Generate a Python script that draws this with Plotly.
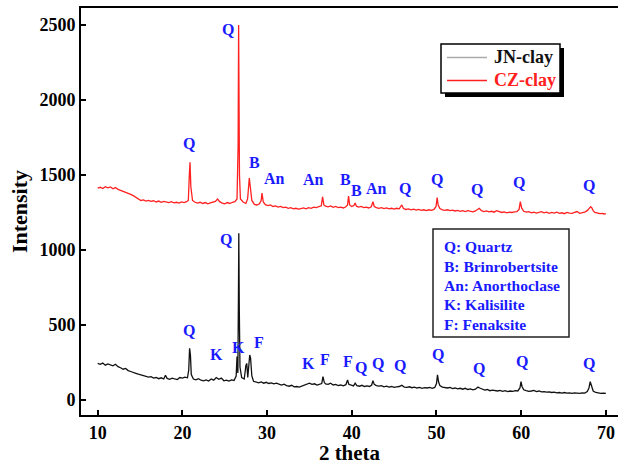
import plotly.graph_objects as go

# ---------------- data ----------------
jn_x = [10.0, 10.3, 10.6, 10.9, 11.2, 11.5, 11.8, 12.1, 12.4, 12.7, 13.0, 13.3, 13.6, 13.9,
        14.2, 14.5, 14.8, 15.1, 15.4, 15.7, 16.0, 16.3, 16.6, 16.9, 17.2, 17.5, 17.8, 18.0,
        18.2, 18.5, 18.8, 19.1, 19.4, 19.7, 20.0, 20.3, 20.6, 20.75, 20.85, 20.95, 21.05, 21.3,
        21.6, 21.9, 22.2, 22.5, 22.8, 23.1, 23.4, 23.7, 24.0, 24.3, 24.6, 24.9, 25.2, 25.5,
        25.8, 26.1, 26.35, 26.45, 26.55, 26.62, 26.66, 26.72, 26.8, 27.0, 27.3, 27.5, 27.6,
        27.72, 27.85, 27.95, 28.05, 28.2, 28.4, 28.7, 29.0, 29.3, 29.6, 29.9, 30.2, 30.5,
        30.8, 31.1, 31.4, 31.7, 32.0, 32.3, 32.6, 32.9, 33.2, 33.5, 33.8, 34.1, 34.4, 34.7,
        35.0, 35.3, 35.6, 35.9, 36.2, 36.45, 36.6, 36.75, 36.9, 37.2, 37.5, 37.8, 38.1, 38.4,
        38.7, 39.0, 39.3, 39.5, 39.65, 39.9, 40.2, 40.4, 40.6, 40.9, 41.2, 41.5, 41.8, 42.1,
        42.35, 42.5, 42.65, 42.9, 43.2, 43.5, 43.8, 44.1, 44.4, 44.7, 45.0, 45.3, 45.6, 45.9,
        46.2, 46.5, 46.8, 47.1, 47.4, 47.7, 48.0, 48.3, 48.6, 48.9, 49.2, 49.5, 49.8, 50.0,
        50.12, 50.25, 50.4, 50.7, 51.0, 51.3, 51.6, 51.9, 52.2, 52.5, 52.8, 53.1, 53.4, 53.7,
        54.0, 54.3, 54.6, 54.9, 55.1, 55.4, 55.7, 56.0, 56.3, 56.6, 56.9, 57.2, 57.5, 57.8,
        58.1, 58.4, 58.7, 59.0, 59.3, 59.6, 59.85, 59.98, 60.1, 60.3, 60.6, 60.9, 61.2, 61.5,
        61.8, 62.1, 62.4, 62.7, 63.0, 63.3, 63.6, 63.9, 64.2, 64.5, 64.8, 65.1, 65.4, 65.7,
        66.0, 66.3, 66.6, 66.9, 67.2, 67.5, 67.8, 68.0, 68.15, 68.3, 68.5, 68.8, 69.1, 69.4,
        69.7, 70.0]
jn_y = [244, 238, 246, 232, 240, 236, 228, 238, 222, 215, 205, 210, 196, 190,
        186, 178, 172, 168, 162, 160, 152, 156, 146, 150, 142, 148, 140, 165,
        144, 138, 146, 140, 136, 150, 146, 152, 148, 200, 344, 300, 170, 140,
        134, 142, 132, 128, 134, 126, 140, 132, 150, 138, 146, 128, 132, 126,
        134, 130, 160, 290, 180, 700, 1111, 600, 220, 150, 140, 230, 244,
        150, 240, 300, 280, 160, 125, 118, 114, 120, 112, 118, 110, 114,
        108, 112, 104, 100, 106, 96, 92, 98, 88, 90, 86, 92, 100, 108,
        112, 104, 108, 100, 104, 110, 156, 118, 108, 104, 112, 100, 104, 96,
        100, 94, 102, 133, 105, 98, 94, 112, 96, 92, 98, 90, 94, 90,
        100, 129, 104, 96, 92, 96, 88, 92, 86, 90, 84, 88, 90, 98,
        86, 84, 88, 82, 86, 80, 84, 78, 82, 80, 84, 78, 84, 110,
        167, 120, 96, 86, 84, 80, 84, 76, 80, 74, 78, 72, 78, 70,
        74, 68, 72, 86, 80, 72, 66, 70, 62, 66, 64, 60, 64, 58,
        62, 56, 60, 58, 62, 60, 80, 122, 90, 68, 62, 58, 60, 64,
        56, 60, 54, 56, 52, 54, 50, 52, 48, 50, 46, 50, 46, 48,
        44, 48, 46, 44, 48, 46, 56, 80, 122, 90, 60, 50, 46, 44,
        46, 44]

cz_x = [10.0, 10.3, 10.6, 10.9, 11.2, 11.5, 11.8, 12.1, 12.4, 12.7, 13.0, 13.3, 13.6, 13.9,
        14.2, 14.5, 14.8, 15.1, 15.4, 15.7, 16.0, 16.3, 16.6, 16.9, 17.2, 17.5, 17.8, 18.1,
        18.4, 18.7, 19.0, 19.3, 19.6, 19.9, 20.2, 20.5, 20.7, 20.82, 20.9, 21.0, 21.2, 21.5,
        21.8, 22.1, 22.4, 22.7, 23.0, 23.3, 23.6, 23.9, 24.15, 24.4, 24.7, 25.0, 25.3, 25.6,
        25.9, 26.2, 26.45, 26.58, 26.64, 26.68, 26.74, 26.85, 27.0, 27.2, 27.5, 27.7, 27.9,
        28.05, 28.2, 28.5, 28.8, 29.1, 29.3, 29.4, 29.55, 29.8, 30.1, 30.4, 30.7, 31.0, 31.3,
        31.6, 31.9, 32.2, 32.5, 32.8, 33.1, 33.4, 33.7, 34.0, 34.3, 34.6, 34.9, 35.2, 35.5,
        35.8, 36.1, 36.4, 36.55, 36.7, 36.9, 37.2, 37.5, 37.8, 38.1, 38.4, 38.7, 39.0, 39.3,
        39.5, 39.62, 39.75, 40.0, 40.25, 40.4, 40.55, 40.8, 41.1, 41.4, 41.7, 42.0, 42.3,
        42.5, 42.65, 42.9, 43.2, 43.5, 43.8, 44.1, 44.4, 44.7, 45.0, 45.3, 45.6, 45.9, 46.1,
        46.4, 46.7, 47.0, 47.3, 47.6, 47.9, 48.2, 48.5, 48.8, 49.1, 49.4, 49.7, 49.95, 50.08,
        50.2, 50.4, 50.7, 51.0, 51.3, 51.6, 51.9, 52.2, 52.5, 52.8, 53.1, 53.4, 53.7, 54.0,
        54.3, 54.6, 54.9, 55.05, 55.3, 55.6, 55.9, 56.2, 56.5, 56.8, 57.1, 57.4, 57.7, 58.0,
        58.3, 58.6, 58.9, 59.2, 59.5, 59.75, 59.9, 60.05, 60.3, 60.6, 60.9, 61.2, 61.5, 61.8,
        62.1, 62.4, 62.7, 63.0, 63.3, 63.6, 63.9, 64.2, 64.5, 64.8, 65.1, 65.4, 65.7, 66.0,
        66.3, 66.6, 66.9, 67.2, 67.5, 67.8, 68.0, 68.2, 68.35, 68.5, 68.7, 69.0, 69.3, 69.6,
        69.8, 70.0]
cz_y = [1412, 1418, 1410, 1422, 1414, 1420, 1408, 1416, 1404, 1398, 1392, 1384, 1376, 1370,
        1362, 1350, 1342, 1330, 1334, 1326, 1330, 1324, 1328, 1320, 1326, 1318, 1324, 1320,
        1316, 1322, 1314, 1318, 1312, 1320, 1316, 1322, 1330, 1500, 1585, 1420, 1330, 1318,
        1312, 1318, 1310, 1316, 1308, 1314, 1318, 1324, 1340, 1322, 1312, 1308, 1316, 1310,
        1318, 1322, 1340, 1700, 2500, 2200, 1500, 1340, 1330, 1318, 1310, 1340, 1480,
        1400, 1330, 1304, 1300, 1308, 1330, 1380, 1320, 1302, 1296, 1300, 1290, 1294, 1286,
        1290, 1282, 1286, 1278, 1282, 1274, 1278, 1272, 1276, 1280, 1274, 1282, 1278, 1286,
        1282, 1288, 1294, 1355, 1300, 1292, 1288, 1294, 1284, 1290, 1282, 1286, 1280, 1288,
        1300, 1360, 1300, 1290, 1296, 1313, 1292, 1286, 1290, 1282, 1286, 1280, 1288,
        1322, 1290, 1282, 1278, 1282, 1276, 1280, 1274, 1278, 1272, 1278, 1274, 1300, 1276,
        1270, 1274, 1268, 1272, 1266, 1270, 1264, 1268, 1262, 1268, 1264, 1270, 1290, 1349,
        1300, 1276, 1268, 1264, 1268, 1262, 1266, 1260, 1264, 1258, 1262, 1256, 1262, 1258,
        1254, 1260, 1270, 1278, 1262, 1256, 1260, 1254, 1258, 1252, 1262, 1256, 1250, 1254,
        1248, 1252, 1250, 1254, 1256, 1270, 1322, 1280, 1258, 1252, 1256, 1248, 1252, 1246,
        1250, 1256, 1248, 1252, 1244, 1250, 1246, 1252, 1244, 1248, 1242, 1250, 1246, 1244,
        1250, 1256, 1244, 1248, 1252, 1262, 1274, 1289, 1280, 1262, 1250, 1246, 1242, 1244,
        1240, 1242]

# peak labels
cz_lbl = ["Q", "Q", "B", "An", "An", "B", "B", "An", "Q", "Q", "Q", "Q", "Q"]
cz_lx = [25.4, 20.8, 28.5, 30.9, 35.5, 39.2, 40.6, 42.9, 46.3, 50.1, 54.8, 59.8, 68.0]
cz_ly = [2467, 1707, 1585, 1478, 1467, 1473, 1396, 1411, 1411, 1473, 1404, 1449, 1429]

jn_lbl = ["Q", "Q", "K", "K", "F", "K", "F", "F", "Q", "Q", "Q", "Q", "Q", "Q", "Q"]
jn_lx = [25.2, 20.8, 24.0, 26.6, 29.0, 34.9, 36.8, 39.6, 41.1, 43.1, 45.7, 50.2, 55.0, 60.1, 68.0]
jn_ly = [1071, 462, 300, 351, 382, 244, 271, 256, 218, 244, 227, 300, 211, 256, 244]

minerals = ["Q: Quartz", "B: Brinrobertsite", "An: Anorthoclase", "K: Kalisilite", "F: Fenaksite"]
series_names = ["JN-clay", "CZ-clay"]

x_ticks = [10, 20, 30, 40, 50, 60, 70]
y_ticks = [0, 500, 1000, 1500, 2000, 2500]

# ---------------- figure ----------------
W, H = 618, 465
ML, MR, MT, MB = 81, 0, 8, 50
PW, PH = W - ML - MR, H - MT - MB

def px(xp):
    return (xp - ML) / PW

def py(yp):
    return (H - MB - yp) / PH

SERIF = "Liberation Serif"
BLUE = "#1a1aff"
RED = "#ff2020"

fig = go.Figure()
fig.add_trace(go.Scatter(x=jn_x, y=jn_y, mode="lines", name=series_names[0],
                         line=dict(color="#111111", width=1.3), showlegend=False))
fig.add_trace(go.Scatter(x=cz_x, y=cz_y, mode="lines", name=series_names[1],
                         line=dict(color=RED, width=1.3), showlegend=False))

ann = []
for t, x, y in zip(cz_lbl + jn_lbl, cz_lx + jn_lx, cz_ly + jn_ly):
    ann.append(dict(x=x, y=y, xref="x", yref="y", text=t, showarrow=False,
                    font=dict(family=SERIF, size=16, color=BLUE, weight="bold")))

shapes = []
# series legend: shadow + box
shapes.append(dict(type="rect", xref="paper", yref="paper", x0=px(445), x1=px(564),
                   y0=py(97), y1=py(48), fillcolor="black", line=dict(width=0), layer="above"))
shapes.append(dict(type="rect", xref="paper", yref="paper", x0=px(441), x1=px(560),
                   y0=py(93), y1=py(44), fillcolor="white", line=dict(color="black", width=1.5),
                   layer="above"))
shapes.append(dict(type="line", xref="paper", yref="paper", x0=px(447), x1=px(487),
                   y0=py(57.5), y1=py(57.5), line=dict(color="#aaaaaa", width=1.5), layer="above"))
shapes.append(dict(type="line", xref="paper", yref="paper", x0=px(447), x1=px(487),
                   y0=py(80.5), y1=py(80.5), line=dict(color=RED, width=1.5), layer="above"))
ann.append(dict(x=px(492), y=py(57.5), xref="paper", yref="paper", text=series_names[0],
                showarrow=False, xanchor="left", yanchor="middle",
                font=dict(family=SERIF, size=18, color="#111111", weight="bold")))
ann.append(dict(x=px(492), y=py(80.5), xref="paper", yref="paper", text=series_names[1],
                showarrow=False, xanchor="left", yanchor="middle",
                font=dict(family=SERIF, size=18, color=RED, weight="bold")))

# mineral key box
shapes.append(dict(type="rect", xref="paper", yref="paper", x0=px(433), x1=px(569),
                   y0=py(337), y1=py(229), fillcolor="white", line=dict(color="#222222", width=1.5),
                   layer="above"))
for i, m in enumerate(minerals):
    ann.append(dict(x=px(442), y=py(246.7 + i * 19.4), xref="paper", yref="paper", text=m,
                    showarrow=False, xanchor="left", yanchor="middle",
                    font=dict(family=SERIF, size=15.5, color=BLUE, weight="bold")))

axis_font = dict(family=SERIF, size=18, color="black", weight="bold")
fig.update_layout(
    width=W, height=H,
    margin=dict(l=ML, r=MR, t=MT, b=MB),
    paper_bgcolor="white", plot_bgcolor="white",
    showlegend=False,
    annotations=ann, shapes=shapes,
    xaxis=dict(range=[8.03, 71.43], tickvals=x_ticks, ticks="inside", ticklen=5, tickwidth=1.5,
               tickcolor="black", showline=True, linecolor="black", linewidth=2, mirror=True,
               showgrid=False, zeroline=False, tickfont=axis_font,
               title=dict(text="2 theta", font=dict(family=SERIF, size=21, color="black", weight="bold"),
                          standoff=7)),
    yaxis=dict(range=[-100, 2613], tickvals=y_ticks, ticks="inside", ticklen=5, tickwidth=1.5,
               tickcolor="black", showline=True, linecolor="black", linewidth=2, mirror=False,
               showgrid=False, zeroline=False, tickfont=axis_font,
               title=dict(text="Intensity", font=dict(family=SERIF, size=22, color="black", weight="bold"),
                          standoff=6)),
)

fig.write_html("out.html")
